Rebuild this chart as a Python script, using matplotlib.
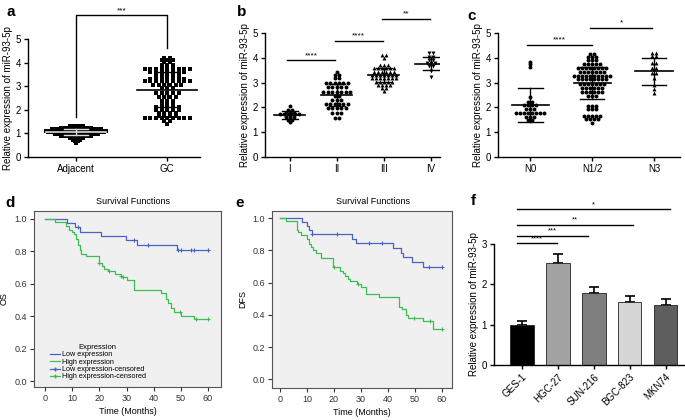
import numpy as np
import matplotlib.pyplot as plt
from matplotlib.lines import Line2D

plt.rcParams['font.family'] = ['Liberation Sans', 'DejaVu Sans']

# ---------------- datos ----------------
# panel a (valores leidos por filas del grafico de puntos)
a_labels = ['Adjacent', 'GC']
a_adjacent = [1.32] * 5 + [1.25] * 10 + [1.18] * 16 + [1.11] * 20 + [1.04] * 18 + \
             [0.97] * 14 + [0.90] * 10 + [0.82] * 5 + [0.74] * 3 + [0.67] * 2 + [0.60] * 1
a_gc = [4.20] * 2 + [4.12] * 3 + [4.02] * 2 + [3.88] * 3 + [3.72] * 9 + [3.60] * 7 + \
       [3.45] * 5 + [3.32] * 7 + [3.20] * 9 + [3.06] * 6 + [2.92] * 3 + [2.72] * 5 + \
       [2.55] * 4 + [2.38] * 3 + [2.22] * 3 + [2.10] * 5 + [2.00] * 5 + [1.86] * 4 + \
       [1.75] * 4 + [1.65] * 9 + [1.52] * 2 + [1.40] * 1
a_means = [1.07, 2.85]
a_sds = [0.12, 0.75]

# panel b
b_labels = ['I', 'II', 'III', 'IV']
b_I = [2.05] * 1 + [1.90] * 2 + [1.78] * 3 + [1.72] * 6 + [1.62] * 3 + [1.50] * 2 + [1.40] * 1
b_II = [3.44] * 1 + [3.31] * 2 + [3.17] * 2 + [2.97] * 6 + [2.81] * 5 + [2.63] * 7 + \
       [2.47] * 2 + [2.30] * 3 + [2.12] * 6 + [1.96] * 5 + [1.76] * 3 + [1.58] * 2
b_III = [4.11] * 2 + [3.98] * 1 + [3.71] * 3 + [3.58] * 6 + [3.44] * 6 + [3.31] * 7 + \
        [3.17] * 7 + [3.04] * 5 + [2.90] * 4 + [2.77] * 2 + [2.66] * 1
b_IV = [4.18] * 2 + [4.05] * 2 + [3.90] * 2 + [3.78] * 3 + [3.65] * 2 + [3.45] * 1 + [3.22] * 1
b_means = [1.70, 2.50, 3.30, 3.77]
b_sds = [0.15, 0.45, 0.27, 0.28]

# panel c
c_labels = ['N0', 'N1/2', 'N3']
c_N0 = [3.84] * 1 + [3.73] * 1 + [3.64] * 1 + [2.40] * 1 + [2.22] * 2 + [2.09] * 4 + \
       [1.92] * 3 + [1.78] * 8 + [1.62] * 3 + [1.51] * 2
c_N12 = [4.16] * 2 + [4.04] * 3 + [3.91] * 3 + [3.73] * 5 + [3.57] * 8 + [3.43] * 7 + \
        [3.27] * 10 + [3.13] * 8 + [2.95] * 7 + [2.77] * 6 + [2.63] * 6 + [2.46] * 3 + \
        [2.06] * 3 + [1.92] * 3 + [1.67] * 5 + [1.54] * 4 + [1.38] * 1
c_N3 = [4.18] * 2 + [4.08] * 2 + [3.80] * 2 + [3.60] * 2 + [3.40] * 2 + [3.18] * 1 + \
       [2.90] * 1 + [2.75] * 1 + [2.58] * 1
c_means = [2.10, 2.98, 3.45]
c_sds = [0.70, 0.65, 0.55]

# panel d (OS)
os_low_t = [0, 8.0, 11.0, 12.7, 20.7, 29.9, 33.8, 48.6, 60]
os_low_s = [1.0, 0.973, 0.953, 0.92, 0.895, 0.868, 0.841, 0.81, 0.81]
os_low_cens = [12.0, 32.8, 37.8, 48.8, 50.0, 53.6, 55.0, 60.0]
os_high_t = [0, 3.7, 7.7, 8.8, 9.9, 10.7, 11.5, 12.0, 12.7, 13.3, 14.9, 19.7, 20.9, 21.8, 23.0,
             25.9, 27.8, 28.5, 30.2, 32.7, 42.8, 44.7, 45.4, 46.2, 47.3, 50.0, 54.7, 60]
os_high_s = [1.0, 0.98, 0.954, 0.93, 0.92, 0.91, 0.875, 0.84, 0.81, 0.785, 0.77, 0.73, 0.71, 0.69,
             0.677, 0.66, 0.65, 0.64, 0.622, 0.562, 0.54, 0.504, 0.48, 0.45, 0.426, 0.40, 0.38, 0.38]
os_high_cens = [19.9, 23.5, 27.9, 28.8, 49.6, 55.7, 60.0]

# panel e (DFS)
dfs_low_t = [0, 8.0, 9.9, 10.9, 11.9, 26.8, 28.0, 41.8, 44.8, 45.8, 48.9, 53.0, 60]
dfs_low_s = [1.0, 0.975, 0.952, 0.927, 0.90, 0.873, 0.847, 0.813, 0.786, 0.76, 0.729, 0.70, 0.70]
dfs_low_cens = [12.0, 21.0, 32.9, 38.0, 55.1, 60.0]
dfs_high_t = [0, 2.1, 6.2, 6.7, 7.8, 9.9, 10.9, 11.6, 12.3, 13.2, 15.0, 19.8, 22.3, 23.3, 24.2,
              25.2, 26.0, 28.7, 30.0, 32.0, 36.7, 44.0, 45.1, 46.8, 47.5, 53.0, 56.9, 60]
dfs_high_s = [1.0, 0.981, 0.927, 0.915, 0.896, 0.87, 0.839, 0.82, 0.803, 0.786, 0.751, 0.696,
              0.675, 0.658, 0.642, 0.625, 0.609, 0.592, 0.575, 0.532, 0.51, 0.449, 0.436, 0.399,
              0.38, 0.36, 0.314, 0.314]
dfs_high_cens = [19.9, 29.1, 49.7, 55.7, 60.0]

# panel f
f_labels = ['GES-1', 'HGC-27', 'SUN-216', 'BGC-823', 'MKN74']
f_values = [1.0, 2.52, 1.78, 1.57, 1.48]
f_errors = [0.10, 0.24, 0.16, 0.15, 0.15]
f_colors = ['#000000', '#A3A3A3', '#7E7E7E', '#D6D6D6', '#5E5E5E']

BLUE = '#4A62C4'
GREEN = '#3EBE52'

# ---------------- figura ----------------
W, H = 685, 420
fig = plt.figure(figsize=(6.85, 4.2), dpi=100)


def add_ax(x0, y0, x1, y1):
    # coordenadas en pixeles desde arriba a la izquierda
    return fig.add_axes([x0 / W, 1 - y1 / H, (x1 - x0) / W, (y1 - y0) / H])


def swarm_x(vals, center, xstep, maxw):
    # puntos con el mismo valor van en la misma fila, repartidos en horizontal
    vals = np.asarray(vals)
    xs = np.full(len(vals), float(center))
    rows = np.round(vals * 100).astype(int)
    for r in np.unique(rows):
        idx = np.where(rows == r)[0]
        n = len(idx)
        off = (np.arange(n) - (n - 1) / 2) * xstep
        if n > 1 and np.abs(off).max() > maxw:
            off = off * maxw / np.abs(off).max()
        xs[idx] += off
    return xs


def prism(ax):
    for s in ['top', 'right']:
        ax.spines[s].set_visible(False)
    for s in ['left', 'bottom']:
        ax.spines[s].set_linewidth(1.0)
    ax.tick_params(direction='out', length=3, width=1, labelsize=7, pad=2)


def dot_panel(ax, groups, markers, means, sds, xsteps, maxw, mean_hw, cap_hw,
              ms=7, mean_colors=None):
    for i, (vals, m) in enumerate(zip(groups, markers)):
        xs = swarm_x(vals, i, xsteps[i], maxw)
        ax.scatter(xs, vals, marker=m, s=ms, color='black', linewidths=0, zorder=3)
        mu, sd = means[i], sds[i]
        col = 'black' if mean_colors is None else mean_colors[i]
        ax.plot([i - mean_hw, i + mean_hw], [mu, mu], color=col, lw=1.2, zorder=4)
        ax.plot([i, i], [mu - sd, mu + sd], color=col, lw=1, zorder=4)
        for yy in (mu - sd, mu + sd):
            ax.plot([i - cap_hw, i + cap_hw], [yy, yy], color=col, lw=1, zorder=4)


def sig(ax, x0, x1, y, txt, fs=6, dy=0.05):
    ax.plot([x0, x1], [y, y], color='black', lw=1, clip_on=False)
    ax.text((x0 + x1) / 2, y + dy, txt, ha='center', va='bottom', fontsize=fs, clip_on=False)


ylab = 'Relative expression of miR-93-5p'

# ---- a ----
ax = add_ax(28, 39, 200, 157)
prism(ax)
dot_panel(ax, [a_adjacent, a_gc], ['s', 's'], a_means, a_sds, [0.036, 0.062], 0.33, 0.33, 0.13,
          ms=7, mean_colors=['#DDDDDD', 'black'])
ax.set_xlim(-0.53, 1.36)
ax.set_ylim(0, 5)
ax.set_xticks([0, 1])
ax.set_xticklabels(a_labels)
ax.set_yticks(range(6))
ax.set_ylabel(ylab, fontsize=7, labelpad=2)
ax.plot([0, 0, 1, 1], [1.7, 6.0, 6.0, 4.6], color='black', lw=1, clip_on=False)
ax.text(0.5, 6.05, '***', ha='center', va='bottom', fontsize=6)

# ---- b ----
ax = add_ax(265, 33, 440, 157)
prism(ax)
dot_panel(ax, [b_I, b_II, b_III, b_IV], ['o', 'o', '^', 'v'], b_means, b_sds,
          [0.08, 0.095, 0.085, 0.085], 0.33, 0.33, 0.17, ms=8)
ax.set_xlim(-0.53, 3.2)
ax.set_ylim(0, 5)
ax.set_xticks(range(4))
ax.set_xticklabels(b_labels)
ax.set_yticks(range(6))
ax.set_ylabel(ylab, fontsize=7, labelpad=2)
sig(ax, -0.06, 0.96, 3.9, '****')
sig(ax, 0.96, 1.98, 4.68, '****')
sig(ax, 1.96, 2.98, 5.56, '**')

# ---- c ----
ax = add_ax(498, 33, 680, 157)
prism(ax)
dot_panel(ax, [c_N0, c_N12, c_N3], ['o', 'o', '^'], c_means, c_sds,
          [0.065, 0.065, 0.065], 0.3, 0.3, 0.2, ms=8)
ax.set_xlim(-0.52, 2.42)
ax.set_ylim(0, 5)
ax.set_xticks(range(3))
ax.set_xticklabels(c_labels)
ax.set_yticks(range(6))
ax.set_ylabel(ylab, fontsize=7, labelpad=2)
sig(ax, -0.05, 1.0, 4.52, '****')
sig(ax, 0.97, 1.97, 5.2, '*')


# ---- d / e : Kaplan-Meier ----
def km_panel(ax, low_t, low_s, low_c, high_t, high_s, high_c, ylabel):
    ax.set_facecolor('#F0F0F0')
    for s in ax.spines.values():
        s.set_color('#555555')
        s.set_linewidth(0.8)
    ax.step(low_t, low_s, where='post', color=BLUE, lw=0.9)
    ax.step(high_t, high_s, where='post', color=GREEN, lw=0.9)
    for t_arr, s_arr, cens, col in [(low_t, low_s, low_c, BLUE), (high_t, high_s, high_c, GREEN)]:
        idx = np.searchsorted(t_arr, cens, side='right') - 1
        ax.plot(cens, np.asarray(s_arr)[idx], '+', color=col, ms=3.5, mew=0.8)
    ax.set_xticks(range(0, 61, 10))
    ax.set_yticks(np.arange(0, 1.01, 0.2))
    ax.set_yticklabels([f'{v:.1f}' for v in np.arange(0, 1.01, 0.2)])
    ax.tick_params(direction='out', length=3, width=0.8, labelsize=6.5, colors='#333333', pad=2)
    ax.set_xlabel('Time (Months)', fontsize=6.5, labelpad=3)
    ax.set_ylabel(ylabel, fontsize=6.5, labelpad=4)


ax = add_ax(34, 211, 221, 387)
km_panel(ax, os_low_t, os_low_s, os_low_cens, os_high_t, os_high_s, os_high_cens, 'OS')
ax.set_xlim(-4.1, 64.8)
ax.set_ylim(-0.037, 1.049)
handles = [Line2D([], [], color=BLUE, lw=0.9), Line2D([], [], color=GREEN, lw=0.9),
           Line2D([], [], color=BLUE, lw=0.9, marker='+', ms=3.5),
           Line2D([], [], color=GREEN, lw=0.9, marker='+', ms=3.5)]
leg = ax.legend(handles, ['Low expression', 'High expression', 'Low expression-censored',
                          'High expression-censored'],
                title='Expression', loc='upper left', bbox_to_anchor=(0.06, 0.27),
                fontsize=5.2, title_fontsize=5.5, frameon=False, handlelength=1.4,
                handletextpad=0.3, labelspacing=0.05, borderpad=0.1)
fig.text(133 / W, 1 - 201 / H, 'Survival Functions', ha='center', va='center', fontsize=6.5)

ax = add_ax(272, 211, 452, 388)
km_panel(ax, dfs_low_t, dfs_low_s, dfs_low_cens, dfs_high_t, dfs_high_s, dfs_high_cens, 'DFS')
ax.set_xlim(-3.0, 63.8)
ax.set_ylim(-0.054, 1.045)
fig.text(373 / W, 1 - 201 / H, 'Survival Functions', ha='center', va='center', fontsize=6.5)

# ---- f ----
ax = add_ax(494, 244, 685, 365)
prism(ax)
x = np.arange(len(f_values))
ax.bar(x, f_values, width=0.66, color=f_colors, edgecolor='#222222', linewidth=0.6, zorder=2)
ax.errorbar(x, f_values, yerr=[np.zeros(len(f_errors)), f_errors], fmt='none', ecolor='black',
            elinewidth=1.2, capsize=3.5, capthick=1.2, zorder=1)
ax.set_xlim(-0.77, 4.54)
ax.set_ylim(0, 3)
ax.set_yticks([0, 1, 2, 3])
ax.set_xticks(x)
ax.set_xticklabels(f_labels, rotation=45, ha='right', rotation_mode='anchor')
ax.set_ylabel(ylab, fontsize=7, labelpad=2)
sig(ax, -0.12, 0.99, 3.02, '****', fs=5.5, dy=0.03)
sig(ax, -0.12, 1.85, 3.2, '***', fs=5.5, dy=0.03)
sig(ax, -0.12, 3.1, 3.48, '**', fs=5.5, dy=0.03)
sig(ax, -0.12, 4.12, 3.86, '*', fs=5.5, dy=0.03)

# letras de los paneles
for letra, px, py in [('a', 11, 12), ('b', 242, 12), ('c', 472, 16),
                      ('d', 10, 203), ('e', 240, 203), ('f', 473, 201)]:
    fig.text(px / W, 1 - py / H, letra, ha='center', va='center', fontsize=11, fontweight='bold')

fig.savefig('out.png', dpi=100)
